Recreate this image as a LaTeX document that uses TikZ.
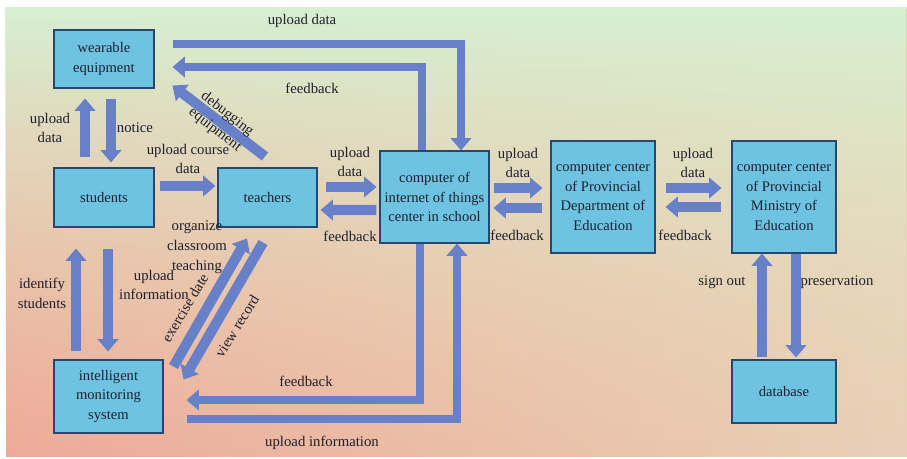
\documentclass[tikz,border=0pt]{standalone}
\usepackage{fontspec}
\setmainfont{Liberation Serif}
\usetikzlibrary{arrows.meta}
\usetikzlibrary{fadings}

\definecolor{boxblue}{RGB}{110,195,226}
\definecolor{boxline}{RGB}{40,70,110}
\definecolor{flowblue}{RGB}{104,128,200}
\definecolor{txtdark}{RGB}{30,32,45}
\definecolor{bggreen}{RGB}{214,240,210}
\definecolor{bgbeige}{RGB}{236,222,186}
\definecolor{bgsalmon}{RGB}{238,170,152}
\definecolor{bgsand}{RGB}{232,208,182}

\tikzfading[name=topfade, top color=transparent!0, middle color=transparent!20, bottom color=transparent!100]

\tikzset{
  unit/.style={draw=boxline, line width=0.6pt, fill=boxblue, text=txtdark, align=center, inner sep=0pt, font=\fontsize{8.3}{11.3}\selectfont},
  lbl/.style={text=txtdark, align=center, inner sep=0pt, font=\fontsize{8.4}{11.3}\selectfont},
  flow/.style={draw=flowblue, line width=5.8pt, line join=miter, -{Triangle[width=11.5pt,length=7pt]}},
  elbow/.style={flow, line width=5pt},
}

\begin{document}
\begin{tikzpicture}[x=0.02cm,y=-0.02cm]
    \useasboundingbox (0,0) rectangle (907,459);
    \shade[left color=bgsalmon, right color=bgsand] (6,8) rectangle (907,457);
    \shade[top color=bggreen, bottom color=bgbeige, path fading=topfade] (6,7) rectangle (907,457);
    \fill[bggreen] (6,7) rectangle (907,9);

    \node[unit, minimum width=2cm, minimum height=1.16cm] (wear) at (104,59) {wearable\\equipment};
    \node[unit, minimum width=2cm, minimum height=1.18cm] (stu) at (104,197.5) {students};
    \node[unit, minimum width=1.98cm, minimum height=1.18cm] (tea) at (267.5,197.5) {teachers};
    \node[unit, minimum width=2.18cm, minimum height=1.84cm] (iot) at (434.5,197) {computer of\\internet of things\\center in school};
    \node[unit, minimum width=2.08cm, minimum height=2.24cm] (dept) at (603,197) {computer center\\of Provincial\\Department of\\Education};
    \node[unit, minimum width=2.08cm, minimum height=2.24cm] (mini) at (784,197) {computer center\\of Provincial\\Ministry of\\Education};
    \node[unit, minimum width=2.08cm, minimum height=1.26cm] (db) at (784,391.5) {database};
    \node[unit, minimum width=2.18cm, minimum height=1.46cm] (mon) at (108.5,396.5) {intelligent\\monitoring\\system};

    \draw[flow] ([shift={(-19,-10)}]stu.north) -- ([shift={(-19,10)}]wear.south);
    \draw[flow] ([shift={(7,10)}]wear.south) -- ([shift={(7,-5)}]stu.north);
    \draw[flow] ([shift={(5,-11.5)}]stu.east) -- ([shift={(-2,-11.5)}]tea.west);
    \draw[flow] ([shift={(-2.5,-11)}]tea.north) -- ([shift={(18,-3)}]wear.south east);
    \draw[flow] ([shift={(8,-10.5)}]tea.east) -- ([shift={(-3,-10)}]iot.west);
    \draw[flow] ([shift={(-3,13)}]iot.west) -- ([shift={(3,12.5)}]tea.east);
    \draw[elbow] ([shift={(-12.5,0)}]iot.north) |- ([shift={(18,8)}]wear.east);
    \draw[elbow] ([shift={(18,-15)}]wear.east) -| ([shift={(26.5,0)}]iot.north);
    \draw[elbow] ([shift={(-14.5,0)}]iot.south) |- ([shift={(23,3.5)}]mon.east);
    \draw[elbow] ([shift={(23,22.5)}]mon.east) -| ([shift={(22.5,0)}]iot.south);
    \draw[flow] ([shift={(-32.5,-8)}]mon.north) -- ([shift={(-28,21)}]stu.south);
    \draw[flow] ([shift={(4,21)}]stu.south) -- ([shift={(-0.5,-8)}]mon.north);
    \draw[flow] ([shift={(10,7)}]mon.north east) -- ([shift={(-20.5,11)}]tea.south);
    \draw[flow] ([shift={(-4.5,15)}]tea.south) -- ([shift={(20,20)}]mon.north east);
    \draw[flow] ([shift={(4,-9)}]iot.east) -- ([shift={(-8,-9)}]dept.west);
    \draw[flow] ([shift={(-8,11)}]dept.west) -- ([shift={(4,11)}]iot.east);
    \draw[flow] ([shift={(10,-9)}]dept.east) -- ([shift={(-10,-9)}]mini.west);
    \draw[flow] ([shift={(-10,10)}]mini.west) -- ([shift={(10,10)}]dept.east);
    \draw[flow] ([shift={(-22,-2)}]db.north) -- ([shift={(-22,0)}]mini.south);
    \draw[flow] ([shift={(12,0)}]mini.south) -- ([shift={(12,-2)}]db.north);

    \node[lbl] (lupwear) at (50,128) {upload\\data};
    \node[lbl] (lnotice) at (135,128) {notice};
    \node[lbl] (lcourse) at (188,159) {upload course\\data};
    \node[lbl, rotate=-38] (ldebug) at (221,122) {debugging\\equipment};
    \node[lbl] (luptea) at (350,162) {upload\\data};
    \node[lbl] (lfbtea) at (350,236) {feedback};
    \node[lbl] (lfbwear) at (312,88) {feedback};
    \node[lbl] (lupiot) at (302,21) {upload data};
    \node[lbl] (lorg) at (197,247) {organize\\classroom\\teaching};
    \node[lbl] (lident) at (42,293) {identify\\students};
    \node[lbl] (lupinfo) at (154,285) {upload\\information};
    \node[lbl, rotate=59] (lexer) at (185,308) {exercise date};
    \node[lbl, rotate=58] (lview) at (237,326) {view record};
    \node[lbl] (lfbmon) at (306,381) {feedback};
    \node[lbl] (lupmon) at (322,443) {upload information};
    \node[lbl] (lupdept) at (518,163) {upload\\data};
    \node[lbl] (lfbdept) at (517,235) {feedback};
    \node[lbl] (lupmin) at (693,163) {upload\\data};
    \node[lbl] (lfbmin) at (685,235) {feedback};
    \node[lbl] (lsign) at (722,282) {sign out};
    \node[lbl] (lkeep) at (837,282) {preservation};
\end{tikzpicture}
\end{document}
